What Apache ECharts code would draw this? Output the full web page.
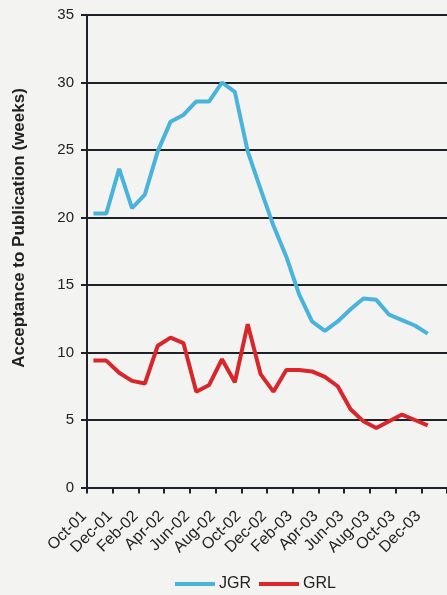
<!DOCTYPE html>
<html>
<head>
<meta charset="utf-8">
<script src="https://cdn.jsdelivr.net/npm/echarts@6/dist/echarts.min.js"></script>
<style>
html,body{margin:0;padding:0;background:#f3f3f1;}
#c{width:447px;height:595px;}
</style>
</head>
<body>
<div id="c"></div>
<script>
const months = ["Oct-01","Nov-01","Dec-01","Jan-02","Feb-02","Mar-02","Apr-02","May-02","Jun-02","Jul-02","Aug-02","Sep-02","Oct-02","Nov-02","Dec-02","Jan-03","Feb-03","Mar-03","Apr-03","May-03","Jun-03","Jul-03","Aug-03","Sep-03","Oct-03","Nov-03","Dec-03","Jan-04"];
const jgr = [20.3,20.3,23.6,20.7,21.7,24.9,27.1,27.6,28.6,28.6,30.0,29.3,24.9,22.1,19.4,17.1,14.3,12.3,11.6,12.3,13.2,14.0,13.9,12.8,12.4,12.0,11.4,null];
const grl = [9.4,9.4,8.5,7.9,7.7,10.5,11.1,10.7,7.1,7.6,9.5,7.8,12.1,8.4,7.1,8.7,8.7,8.6,8.2,7.5,5.8,4.9,4.4,4.9,5.4,5.0,4.6,null];
const yTitle = "Acceptance to Publication (weeks)";

const chart = echarts.init(document.getElementById('c'), null, {renderer:'canvas'});
const dark = '#1c2228';
chart.setOption({
  backgroundColor: '#f3f3f1',
  animation: false,
  grid: {left: 87, right: -18, top: 15, bottom: 107.5, containLabel: false},
  legend: {
    data: ['JGR','GRL'],
    left: 175, top: 576, padding: 0,
    icon: 'rect', itemWidth: 40, itemHeight: 4, itemGap: 8,
    textStyle: {fontFamily: 'Liberation Sans, Arial', fontSize: 16, color: '#222', padding:[0,0,0,-1]}
  },
  xAxis: {
    type: 'category', data: months, boundaryGap: true,
    axisLine: {lineStyle: {color: dark, width: 2}},
    axisTick: {show: true, interval: 1, length: 6, lineStyle: {color: dark, width: 2}},
    axisLabel: {interval: 1, rotate: 45, margin: 17, padding: [0, 13, 0, 0], fontFamily: 'Liberation Sans, Arial', fontSize: 16, color: '#222'},
    splitLine: {show: false}
  },
  yAxis: {
    type: 'value', min: 0, max: 35, interval: 5,
    axisLine: {show: true, lineStyle: {color: dark, width: 2}},
    axisTick: {show: true, length: 6, lineStyle: {color: dark, width: 2}},
    axisLabel: {margin: 13, fontFamily: 'Liberation Sans, Arial', fontSize: 15, color: '#222'},
    splitLine: {show: true, lineStyle: {color: dark, width: 2}}
  },
  graphic: [{
    type: 'text', x: 19, y: 228, rotation: Math.PI/2,
    style: {text: yTitle, font: 'bold 17px "Liberation Sans", Arial', fill: '#222', align: 'center', verticalAlign: 'middle'}
  }],
  series: [
    {name: 'JGR', type: 'line', data: jgr, showSymbol: false, symbol: 'none', color: '#4ab3db',
     lineStyle: {width: 4, color: '#4ab3db'}},
    {name: 'GRL', type: 'line', data: grl, showSymbol: false, symbol: 'none', color: '#d8262b',
     lineStyle: {width: 4, color: '#d8262b'}}
  ]
});
</script>
</body>
</html>
